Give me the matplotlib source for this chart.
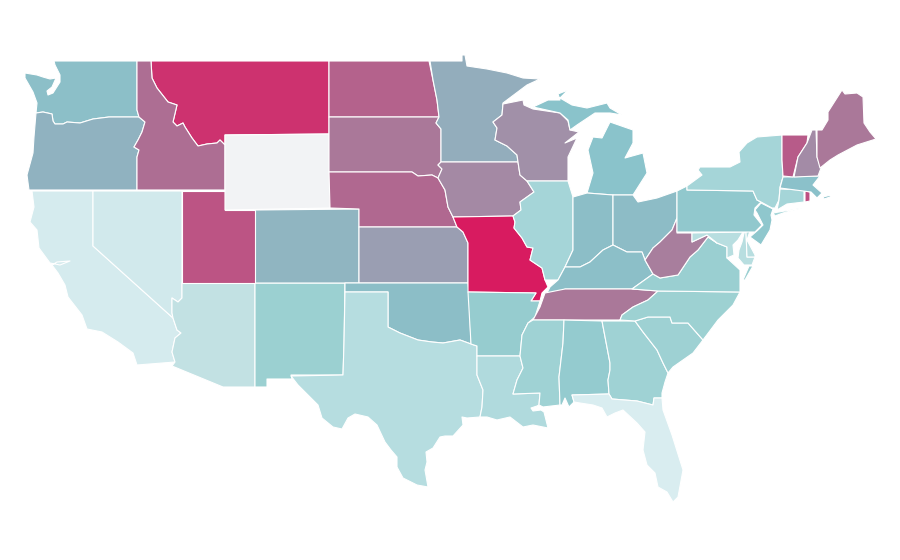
import numpy as np
import matplotlib
matplotlib.use('Agg')
import matplotlib.pyplot as plt
from matplotlib.colors import LinearSegmentedColormap

# state values, nan = no data
values = {
    'FL': 0, 'CA': 3, 'NV': 6, 'AZ': 18, 'DE': 24, 'MD': 24, 'TX': 25, 'LA': 28, 'NY': 33, 'IL': 33,
    'MS': 37, 'GA': 37, 'SC': 38, 'NC': 39, 'NM': 40, 'VA': 41, 'AL': 44, 'AR': 43, 'PA': 46,
    'CT': 33, 'NJ': 47, 'MA': 51, 'MI': 50, 'WA': 52, 'IN': 53, 'KY': 52, 'OK': 53, 'OH': 54,
    'OR': 59, 'CO': 58, 'MN': 61, 'KS': 65, 'WI': 69, 'IA': 71, 'NH': 70, 'WV': 74, 'SD': 76,
    'ME': 76, 'TN': 76, 'ID': 79, 'NE': 81, 'ND': 84, 'VT': 87, 'UT': 90, 'RI': 91, 'MT': 96,
    'MO': 100, 'WY': np.nan,
}
stops = [0, 18, 25, 33, 40, 50, 60, 70, 80, 90, 100]
stop_colors = ['#d9edf0', '#c2e1e3', '#b6dde0', '#a5d5d8', '#9bd0d1', '#8ac3cb',
               '#91b1bf', '#a38ca6', '#ae6b91', '#bb5585', '#d81b60']
no_data = '#f2f3f5'

# outlines in picture pixels, one list per part of a state
outlines = {
    'WA': [[(54,61),(137,61),(137,110),(139,117),(109,117),(93,119),(80,123),(67,122),(63,124),(55,124),(53,121),(52,114),
            (43,112),(36,113),(37,103),(33,92),(25,78),(25,73),(37,75),(43,77),(50,79),(56,78),(52,87),(47,91),(48,95),(53,93),(60,82),(60,75),(55,65)]],
    'OR': [[(36,113),(43,112),(52,114),(53,121),(55,124),(63,124),(67,122),(80,123),(93,119),(109,117),(139,117),(145,122),(142,132),
            (138,140),(134,147),(139,150),(137,157),(137,190),(29,190),(27,175),(33,153),(34,137)]],
    'CA': [[(32,191),(93,191),(93,246),(173,318),(177,330),(181,333),(175,338),(172,352),(175,362),(137,365),(133,353),(118,342),(102,332),
            (87,329),(82,315),(68,297),(65,285),(58,273),(52,265),(57,262),(70,261),(60,265),(50,263),(39,248),(37,230),(30,222),(34,207)]],
    'NV': [[(93,191),(182,191),(182,298),(178,302),(172,298),(172,313),(173,318),(93,246)]],
    'AZ': [[(182,283),(255,283),(255,387),(223,387),(172,366),(175,362),(172,352),(175,338),(181,333),(177,330),(173,318),(172,313),(172,298),(178,302),(182,298)]],
    'NM': [[(255,283),(345,283),(344,343),(343,375),(291,375),(292,379),(267,379),(267,387),(255,387)]],
    'CO': [[(255,210),(359,209),(359,283),(255,283)]],
    'MT': [[(151,61),(329,61),(329,134),(225,135),(225,145),(220,140),(217,143),(207,144),(198,146),(192,138),(185,127),(183,123),(177,126),(173,122),(177,105),(168,102),(157,88),(152,78)]],
    'ID': [[(137,61),(151,61),(152,78),(157,88),(168,102),(177,105),(173,122),(177,126),(183,123),(185,127),(192,138),(198,146),(207,144),(217,143),(220,140),(225,145),(225,190),
            (137,190),(137,157),(139,150),(134,147),(138,140),(142,132),(145,122),(139,117),(137,110)]],
    'UT': [[(182,191),(225,191),(225,210),(255,210),(255,283),(182,283)]],
    'WY': [[(225,135),(329,134),(330,208),(225,210)]],
    'ND': [[(329,61),(429,61),(433,80),(437,100),(439,117),(329,117)]],
    'SD': [[(329,117),(439,117),(436,123),(441,129),(441,162),(438,165),(442,169),(438,178),(432,175),(418,176),(412,172),(343,172),(329,172)]],
    'NE': [[(329,172),(412,172),(418,176),(432,175),(438,178),(445,190),(448,207),(453,217),(457,227),(359,227),(359,209),(330,208)]],
    'KS': [[(359,227),(457,227),(463,232),(468,243),(468,283),(359,283)]],
    'OK': [[(345,283),(468,283),(469,292),(471,344),(460,340),(443,343),(432,342),(418,340),(400,333),(388,327),(388,292),(345,292)]],
    'TX': [[(345,292),(388,292),(388,327),(400,333),(418,340),(432,342),(443,343),(460,340),(471,344),(477,346),(477,375),(483,390),(482,407),(480,417),(467,418),(462,417),(463,425),
            (453,436),(445,436),(440,437),(433,448),(426,452),(427,462),(425,470),(428,487),(417,485),(403,478),(397,467),(397,457),(391,450),(385,442),(377,425),(368,417),(355,414),(348,418),
            (342,429),(333,427),(322,418),(318,405),(310,397),(298,385),(291,376),(343,375),(344,343)]],
    'MN': [[(430,61),(462,61),(462,55),(465,55),(467,66),(487,69),(507,73),(523,78),(540,79),(527,85),(503,103),(502,115),(493,122),(497,128),(495,140),(507,146),(517,155),(518,162),
            (441,162),(441,129),(436,123),(439,117),(437,100),(433,80)]],
    'IA': [[(441,162),(518,162),(520,175),(527,181),(534,192),(520,202),(521,210),(513,216),(453,217),(448,207),(445,190),(438,178),(442,169),(438,165)]],
    'MO': [[(453,217),(513,216),(515,222),(514,228),(522,238),(527,247),(533,248),(530,260),(542,268),(545,280),(548,287),(542,293),(540,301),(531,301),(536,293),(468,292),(468,243),(463,232),(457,227)]],
    'AR': [[(468,292),(536,293),(531,301),(540,301),(535,317),(528,323),(522,335),(520,356),(477,356),(477,346),(471,344)]],
    'LA': [[(477,356),(520,356),(523,368),(517,380),(513,394),(540,393),(539,405),(537,406),(531,408),(533,411),(541,410),(544,412),(548,428),(533,425),(523,427),(510,417),(497,420),(487,417),(480,417),(482,407),(483,390),(477,375)]],
    'WI': [[(503,104),(523,100),(524,105),(533,109),(560,113),(568,121),(570,130),(579,132),(565,143),(577,138),(568,157),(568,181),(527,181),(520,175),(518,162),(517,155),(507,146),(495,140),(497,128),(493,122),(502,115)]],
    'IL': [[(527,181),(568,181),(573,197),(573,250),(565,267),(558,280),(545,280),(542,268),(530,260),(533,248),(527,247),(522,238),(514,228),(515,222),(513,216),(521,210),(520,202),(534,192)]],
    'MI': [[(533,107),(548,100),(560,100),(558,94),(568,90),(560,98),(572,105),(587,108),(607,103),(610,108),(622,115),(610,113),(595,113),(577,125),(570,130),(568,120),(560,113)],
           [(593,137),(602,138),(610,122),(633,130),(633,143),(625,158),(643,153),(647,173),(633,195),(613,195),(587,193),(593,173),(588,150)]],
    'IN': [[(573,197),(587,193),(613,195),(613,245),(603,250),(590,262),(580,267),(565,267),(573,250)]],
    'OH': [[(613,195),(633,195),(638,202),(657,198),(677,191),(677,218),(672,230),(660,242),(653,248),(645,260),(642,252),(627,252),(613,245)]],
    'KY': [[(547,293),(550,287),(558,280),(565,267),(580,267),(590,262),(603,250),(613,245),(627,252),(642,252),(645,260),(653,274),(632,289),(565,289),(564,292)]],
    'TN': [[(545,293),(565,289),(632,289),(658,291),(648,300),(633,307),(622,315),(620,320),(533,320),(540,307)]],
    'MS': [[(533,320),(564,320),(563,343),(559,377),(560,405),(543,407),(539,405),(540,393),(513,394),(517,380),(523,368),(520,356),(522,335),(528,323)]],
    'AL': [[(564,320),(602,321),(610,363),(610,370),(608,380),(609,394),(572,395),(574,402),(569,407),(565,398),(562,405),(560,405),(559,377),(563,343)]],
    'GA': [[(602,321),(635,321),(643,332),(657,350),(663,363),(668,373),(665,382),(662,393),(662,398),(654,398),(653,405),(637,401),(612,399),(609,394),(608,380),(610,370),(610,363)]],
    'FL': [[(572,395),(609,394),(612,399),(637,401),(653,405),(654,398),(662,398),(663,410),(672,435),(683,470),(678,497),(673,502),(667,492),(658,487),(655,473),(647,465),(643,450),(645,432),(637,423),(623,410),(615,413),(607,417),(602,408),(593,405),(580,403),(574,402)]],
    'SC': [[(635,321),(648,317),(670,317),(672,323),(688,323),(703,340),(693,353),(673,367),(668,373),(663,363),(657,350),(643,332)]],
    'NC': [[(658,291),(740,292),(733,305),(718,320),(703,340),(688,323),(672,323),(670,317),(648,317),(635,321),(620,320),(622,315),(633,307),(648,300)]],
    'VA': [[(632,289),(653,274),(660,278),(678,275),(690,257),(698,250),(708,237),(717,243),(727,247),(727,258),(740,270),(740,292),(658,291)],
           [(749,266),(753,266),(745,280),(743,280)]],
    'WV': [[(677,218),(677,233),(692,233),(692,242),(707,235),(717,243),(708,237),(698,250),(690,257),(678,275),(660,278),(653,274),(645,260),(653,248),(660,242),(672,230)]],
    'MD': [[(692,233),(743,232),(738,240),(733,245),(734,255),(727,258),(727,247),(717,243),(707,235),(692,242)],
           [(744,233),(746,232),(747,257),(755,257),(752,265),(744,265),(738,258),(739,250),(742,242)]],
    'DE': [[(746,232),(750,231),(747,240),(755,255),(755,257),(747,257)]],
    'PA': [[(677,191),(687,186),(687,190),(753,191),(757,200),(761,202),(755,208),(754,215),(762,225),(755,232),(677,232)]],
    'NJ': [[(761,203),(773,209),(771,215),(772,220),(770,230),(761,245),(750,237),(758,230),(763,225),(757,213),(755,210)]],
    'NY': [[(687,186),(687,190),(753,191),(757,200),(761,202),(772,208),(775,208),(779,200),(780,187),(783,177),(782,160),(782,135),(757,137),(747,143),(739,152),(740,162),(730,167),(700,167),(698,170),(702,175)],
           [(773,213),(802,208),(783,213),(775,216)]],
    'CT': [[(780,189),(804,190),(804,202),(787,204),(777,210),(779,200)]],
    'RI': [[(805,191),(810,192),(810,201),(805,202)]],
    'MA': [[(783,177),(820,176),(813,185),(822,193),(817,198),(811,192),(780,188)],
           [(823,197),(831,195),(830,197),(824,199)]],
    'VT': [[(782,135),(808,135),(807,143),(798,157),(793,177),(783,176),(782,160)]],
    'NH': [[(812,130),(816,130),(817,157),(821,168),(818,176),(794,177),(798,157),(807,143)]],
    'ME': [[(817,130),(822,130),(828,120),(828,112),(842,90),(845,94),(857,93),(863,97),(864,123),(870,132),(876,139),(857,145),(838,155),(830,160),(820,168),(817,157)]],
}

cmap = LinearSegmentedColormap.from_list('rates', [(s / 100, c) for s, c in zip(stops, stop_colors)])

fig = plt.figure(figsize=(9, 5.6), dpi=100)
ax = fig.add_axes([0, 0, 1, 1])
for state, parts in outlines.items():
    v = values[state]
    color = no_data if np.isnan(v) else cmap(v / 100)
    for part in parts:
        xs, ys = zip(*part)
        ax.fill(xs, ys, facecolor=color, edgecolor='white', linewidth=0.8, joinstyle='round')
ax.set_xlim(0, 900)
ax.set_ylim(560, 0)
ax.axis('off')
fig.savefig('out.png', dpi=100)
